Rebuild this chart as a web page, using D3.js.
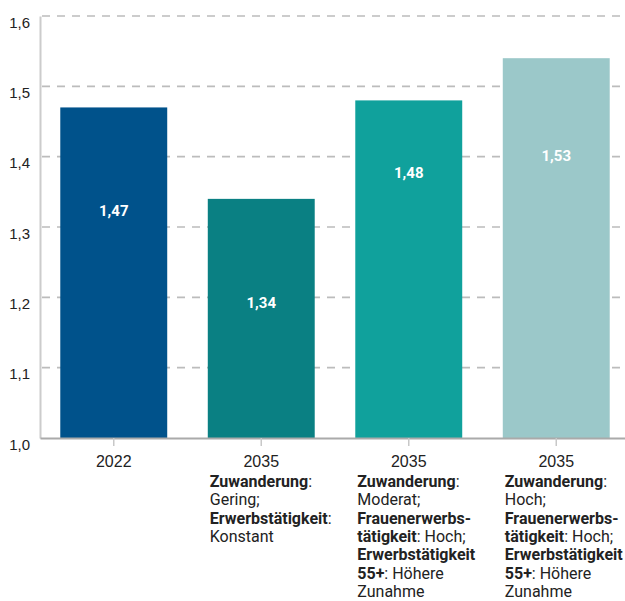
<!DOCTYPE html>
<html>
<head>
<meta charset="utf-8">
<script src="https://cdn.jsdelivr.net/npm/d3@7"></script>
<style>
  body { margin: 0; background: #fff; }
  svg { font-family: Roboto, "Noto Sans", sans-serif; }
</style>
</head>
<body>
<div id="chart"></div>
<script>
// chart data
const categories = ["a", "b", "c", "d"];
const years = ["2022", "2035", "2035", "2035"];
const values = [1.47, 1.34, 1.48, 1.54];
const valueLabels = ["1,47", "1,34", "1,48", "1,53"];
const yTicks = [1.0, 1.1, 1.2, 1.3, 1.4, 1.5, 1.6];
const barColors = ["#00528b", "#0a8083", "#10a19c", "#9bc8c9"];

// scenario descriptions: each line is a list of [text, bold]
const scenarioLines = [
  [],
  [[["Zuwanderung", 1], [":", 0]], [["Gering;", 0]], [["Erwerbstätigkeit", 1], [":", 0]], [["Konstant", 0]]],
  [[["Zuwanderung", 1], [":", 0]], [["Moderat;", 0]], [["Frauenerwerbs-", 1]], [["tätigkeit", 1], [": Hoch;", 0]],
   [["Erwerbstätigkeit", 1]], [["55+", 1], [": Höhere", 0]], [["Zunahme", 0]]],
  [[["Zuwanderung", 1], [":", 0]], [["Hoch;", 0]], [["Frauenerwerbs-", 1]], [["tätigkeit", 1], [": Hoch;", 0]],
   [["Erwerbstätigkeit", 1]], [["55+", 1], [": Höhere", 0]], [["Zunahme", 0]]]
];

const W = 625, H = 601;
const margin = { top: 16, left: 40, right: 0, bottom: 163 };
const labelDrop = [103, 104, 72, 98]; // value label distance below bar top (px)

const svg = d3.select("#chart").append("svg")
  .attr("width", W)
  .attr("height", H);

const x = d3.scaleBand()
  .domain(categories)
  .range([margin.left, 630])
  .paddingInner(0.275)
  .paddingOuter(0.1375);

const y = d3.scaleLinear()
  .domain([1.0, 1.6])
  .range([H - margin.bottom, margin.top]);

const y0 = y(1.0);

// dashed gridlines
svg.append("g")
  .selectAll("line")
  .data(yTicks.filter(d => d > 1.0))
  .join("line")
  .attr("x1", margin.left + 2)
  .attr("x2", W)
  .attr("y1", d => y(d))
  .attr("y2", d => y(d))
  .attr("stroke", "#bcbcbc")
  .attr("stroke-width", 1.6)
  .attr("stroke-dasharray", "8,7");

// y axis
const yAxis = d3.axisLeft(y)
  .tickValues(yTicks)
  .tickSize(0)
  .tickPadding(10)
  .tickFormat(d => d3.format(".1f")(d).replace(".", ","));

const yAxisGroup = svg.append("g")
  .attr("transform", "translate(" + margin.left + ",0)")
  .call(yAxis);
yAxisGroup.select(".domain")
  .attr("stroke", "#cccccc")
  .attr("stroke-width", 2);
yAxisGroup.selectAll("text")
  .attr("dy", "0.75em")
  .attr("fill", "#222")
  .style("font-size", "15px");

// bars
svg.append("g")
  .selectAll("rect")
  .data(values)
  .join("rect")
  .attr("x", (d, i) => x(categories[i]))
  .attr("width", x.bandwidth())
  .attr("y", d => y(d))
  .attr("height", d => y0 - y(d))
  .attr("fill", (d, i) => barColors[i]);

// value labels
svg.append("g")
  .selectAll("text")
  .data(values)
  .join("text")
  .attr("x", (d, i) => x(categories[i]) + x.bandwidth() / 2)
  .attr("y", (d, i) => y(d) + labelDrop[i])
  .attr("dy", "0.35em")
  .attr("text-anchor", "middle")
  .attr("fill", "#fff")
  .style("font-size", "15px")
  .style("font-weight", "bold")
  .text((d, i) => valueLabels[i]);

// x axis
const xAxis = d3.axisBottom(x)
  .tickSize(8)
  .tickSizeOuter(0)
  .tickFormat((d, i) => years[i]);

const xAxisGroup = svg.append("g")
  .attr("transform", "translate(0," + y0 + ")")
  .call(xAxis);
xAxisGroup.select(".domain")
  .attr("stroke", "#aaaaaa")
  .attr("stroke-width", 2);
xAxisGroup.selectAll(".tick line")
  .attr("stroke", "#c8c8c8")
  .attr("stroke-width", 1.5);
xAxisGroup.selectAll(".tick text")
  .attr("y", 18)
  .attr("fill", "#222")
  .style("font-size", "16px");

// scenario descriptions below the axis
const lineHeight = 18.3;
categories.forEach((c, i) => {
  const t = svg.append("text")
    .attr("fill", "#222")
    .style("font-size", "16px");
  scenarioLines[i].forEach((line, j) => {
    line.forEach((seg, k) => {
      const ts = t.append("tspan")
        .style("font-weight", seg[1] ? "bold" : "normal")
        .text(seg[0]);
      if (k === 0) {
        ts.attr("x", x(c) + 2)
          .attr("y", y0 + 49 + j * lineHeight);
      }
    });
  });
});
</script>
</body>
</html>
